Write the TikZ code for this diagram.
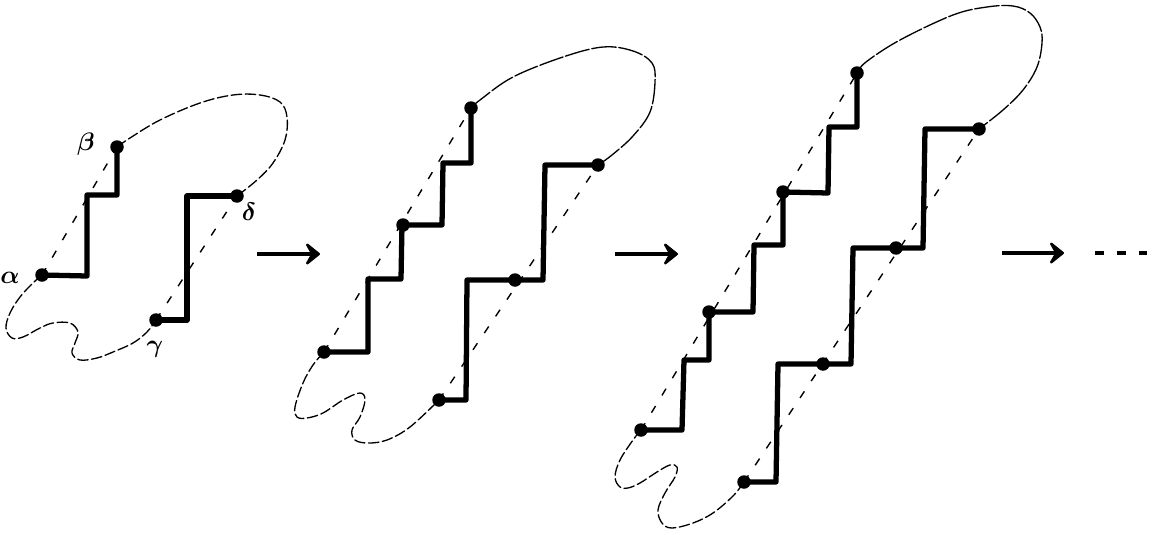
\documentclass[tikz,border=0pt]{standalone}
\usepackage{bm}
\usetikzlibrary{arrows.meta}
\begin{document}
\begin{tikzpicture}[x=0.02cm,y=-0.02cm,
  stair/.style={line width=3pt, line join=round, line cap=round},
  chord/.style={line width=0.8pt, dash pattern=on 4.5pt off 7pt},
  rim/.style={line width=0.75pt, dash pattern=on 14pt off 1.5pt, line cap=round},
  rimb/.style={line width=0.75pt, dash pattern=on 6pt off 2pt, line cap=round},
  dot/.style={circle, fill=black, inner sep=0pt, minimum size=0.27cm},
  lbl/.style={font=\fontsize{14}{16}\selectfont, inner sep=0pt},
  goes/.style={line width=2.6pt, -{Stealth[length=10pt,width=16pt,inset=4.5pt,round]}}]
\useasboundingbox (0,0) rectangle (1159,534);

% ---------- figure 1 ----------
\node[dot] (A1) at (42,275) {};
\node[dot] (B1) at (117,147) {};
\node[dot] (C1) at (156,320) {};
\node[dot] (D1) at (237,196) {};
\node[lbl] (LA) at (10,278) {$\bm\alpha$};
\node[lbl] (LB) at (86,144) {$\bm\beta$};
\node[lbl] (LC) at (155,349) {$\bm\gamma$};
\node[lbl] (LD) at (249,212) {$\bm\delta$};

\draw[stair] (A1.center) -- (87,276) -- (87,195) -- (117,195) -- (B1.center);
\draw[stair] (C1.center) -- (187,320) -- (187,196) -- (D1.center);
\draw[chord] (A1.center) -- (B1.center);
\draw[chord] (C1.center) -- (D1.center);
\draw[rimb] plot[smooth, tension=0.6] coordinates {(B1.center) (130,138) (160,120) (200,103) (233,95) (260,95) (280,102) (287,117) (285,140) (273,163) (257,180) (D1.center)};
\draw[rimb] plot[smooth, tension=0.6] coordinates {(A1.center) (33,283) (20,297) (10,313) (6,328) (12,338) (23,337) (40,328) (53,323) (70,323) (78,332) (75,343) (72,353) (80,360) (97,358) (113,352) (133,343) (147,332) (C1.center)};

% ---------- arrow 1 ----------
\coordinate (P1) at (257,254);
\coordinate (Q1) at (320,254);
\draw[goes] (P1) -- (Q1);

% ---------- figure 2 ----------
\node[dot] (A2) at (324,352) {};
\node[dot] (M2) at (403,225) {};
\node[dot] (B2) at (471,108) {};
\node[dot] (C2) at (439,400) {};
\node[dot] (N2) at (515,280) {};
\node[dot] (D2) at (598,165) {};

\draw[stair] (A2.center) -- (368,352) -- (368,279) -- (401,279) -- (402,225) -- (442,225) -- (443,163) -- (471,163) -- (B2.center);
\draw[stair] (C2.center) -- (466,400) -- (467,280) -- (543,280) -- (545,165) -- (D2.center);
\draw[chord] (A2.center) -- (B2.center);
\draw[chord] (C2.center) -- (D2.center);
\draw[rim] plot[smooth, tension=0.6] coordinates {(B2.center) (480,100) (513,77) (563,57) (603,47) (633,51) (652,63) (655,82) (650,112) (633,136) (612,155) (D2.center)};
\draw[rimb] plot[smooth, tension=0.6] coordinates {(A2.center) (313,365) (303,383) (295,407) (297,417) (307,418) (323,413) (343,400) (360,393) (365,400) (360,417) (352,430) (355,440) (368,443) (387,440) (410,427) (C2.center)};

% ---------- arrow 2 ----------
\coordinate (P2) at (615,254);
\coordinate (Q2) at (678,254);
\draw[goes] (P2) -- (Q2);

% ---------- figure 3 ----------
\node[dot] (A3) at (641,430) {};
\node[dot] (M3) at (709,312) {};
\node[dot] (K3) at (783,192) {};
\node[dot] (B3) at (857,73) {};
\node[dot] (C3) at (744,482) {};
\node[dot] (N3) at (823,364) {};
\node[dot] (L3) at (896,248) {};
\node[dot] (D3) at (979,129) {};

\draw[stair] (A3.center) -- (682,430) -- (684,360) -- (709,360) -- (M3.center) -- (753,312) -- (754,245) -- (783,245) -- (K3.center) -- (828,193) -- (829,127) -- (857,127) -- (B3.center);
\draw[stair] (C3.center) -- (776,482) -- (778,364) -- (851,364) -- (853,248) -- (923,248) -- (925,129) -- (D3.center);
\draw[chord] (A3.center) -- (B3.center);
\draw[chord] (C3.center) -- (D3.center);
\draw[rim] plot[smooth, tension=0.6] coordinates {(B3.center) (866,62) (900,40) (953,15) (987,7) (1013,6) (1030,13) (1040,27) (1042,43) (1037,67) (1023,90) (1003,110) (D3.center)};
\draw[rimb] plot[smooth, tension=0.6] coordinates {(A3.center) (633,440) (620,460) (615,477) (620,487) (628,488) (640,483) (657,472) (670,465) (677,467) (675,477) (665,493) (658,510) (662,523) (672,528) (693,523) (713,513) (733,496) (C3.center)};

% ---------- arrow 3 and continuation ----------
\coordinate (P3) at (1002,253);
\coordinate (Q3) at (1064,253);
\draw[goes] (P3) -- (Q3);
\coordinate (R3) at (1095,253);
\coordinate (S3) at (1147,253);
\draw[line width=1.8pt, dash pattern=on 5pt off 7.5pt] (R3) -- (S3);
\end{tikzpicture}
\end{document}
